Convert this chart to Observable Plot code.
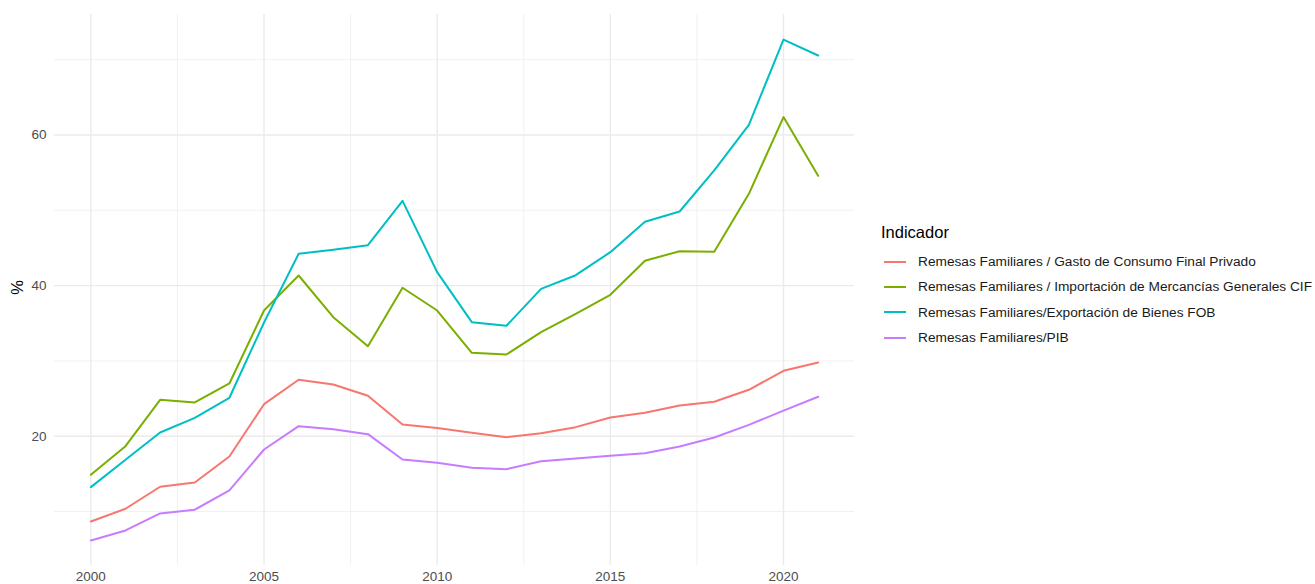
<!DOCTYPE html>
<html>
<head>
<meta charset="utf-8">
<script src="https://cdn.jsdelivr.net/npm/d3@7"></script>
<script src="https://cdn.jsdelivr.net/npm/@observablehq/plot@0.6"></script>
<style>
  body { margin: 0; background: #fff; font-family: "Liberation Sans", Arial, sans-serif; }
  #wrap { position: relative; width: 1315px; height: 584px; }
  #legend { position: absolute; left: 881px; top: 222px; color: #000; }
  #legend .title { font-size: 16.5px; height: 27px; line-height: 20px; }
  #legend .item { display: flex; align-items: center; height: 25.3px; font-size: 13.7px; color: #1a1a1a; white-space: nowrap; }
  #legend .key { width: 22px; height: 2px; margin: 0 12px 0 3px; flex: none; }
  #ylab { position: absolute; left: 10px; top: 278px; font-size: 16.5px; transform: rotate(-90deg); transform-origin: center; }
</style>
</head>
<body>
<div id="wrap"></div>
<script>
const years = [2000,2001,2002,2003,2004,2005,2006,2007,2008,2009,2010,2011,2012,2013,2014,2015,2016,2017,2018,2019,2020,2021];
const seriesNames = [
  "Remesas Familiares / Gasto de Consumo Final Privado",
  "Remesas Familiares / Importación de Mercancías Generales CIF",
  "Remesas Familiares/Exportación de Bienes FOB",
  "Remesas Familiares/PIB"
];
const gastoConsumo = [8.67,10.36,13.28,13.85,17.3,24.25,27.49,26.87,25.36,21.55,21.1,20.45,19.87,20.4,21.2,22.48,23.1,24.08,24.57,26.16,28.68,29.79];
const importacion = [14.87,18.67,24.83,24.48,27.0,36.69,41.34,35.8,31.95,39.71,36.69,31.07,30.85,33.81,36.25,38.78,43.29,44.57,44.49,52.19,62.38,54.58];
const exportacion = [13.23,16.87,20.49,22.44,25.1,35.1,44.22,44.75,45.37,51.26,41.78,35.14,34.66,39.57,41.38,44.44,48.47,49.84,55.3,61.35,72.68,70.56];
const pib = [6.15,7.48,9.74,10.23,12.79,18.23,21.33,20.93,20.27,16.9,16.47,15.8,15.62,16.68,17.04,17.4,17.74,18.63,19.83,21.5,23.4,25.23];
const colors = ["#F8766D","#7CAE00","#00BFC4","#C77CFF"];
const xMajor = [2000,2005,2010,2015,2020];
const xMinor = [2002.5,2007.5,2012.5,2017.5];
const yMajor = [20,40,60];
const yMinor = [10,30,50,70];

const allSeries = [gastoConsumo, importacion, exportacion, pib];
const data = [];
allSeries.forEach((vals, i) => vals.forEach((v, j) => data.push({year: years[j], value: v, ind: seriesNames[i]})));

const allVals = allSeries.flat();
const yMin = d3.min(allVals), yMax = d3.max(allVals);
const yPad = (yMax - yMin) * 0.05;
const xPad = (d3.max(years) - d3.min(years)) * 0.05;

const chart = Plot.plot({
  width: 1315,
  height: 584,
  marginLeft: 54,
  marginRight: 461,
  marginTop: 14,
  marginBottom: 19,
  style: {fontFamily: "Liberation Sans, Arial, sans-serif", background: "#fff"},
  x: {domain: [d3.min(years) - xPad, d3.max(years) + xPad], ticks: xMajor, tickFormat: d => String(d), tickSize: 0, label: null},
  y: {domain: [yMin - yPad, yMax + yPad], ticks: yMajor, tickSize: 0, label: null},
  color: {domain: seriesNames, range: colors},
  marks: [
    Plot.ruleX(xMinor, {stroke: "#ebebeb", strokeWidth: 0.7, strokeOpacity: 1}),
    Plot.ruleY(yMinor, {stroke: "#ebebeb", strokeWidth: 0.7, strokeOpacity: 1}),
    Plot.ruleX(xMajor, {stroke: "#ebebeb", strokeWidth: 1.4, strokeOpacity: 1}),
    Plot.ruleY(yMajor, {stroke: "#ebebeb", strokeWidth: 1.4, strokeOpacity: 1}),
    Plot.axisX({ticks: xMajor, tickFormat: d => String(d), tickSize: 0, tickPadding: 6, fontSize: 13.5, color: "#4d4d4d", label: null}),
    Plot.axisY({ticks: yMajor, tickSize: 0, tickPadding: 8, fontSize: 13.5, color: "#4d4d4d", label: null}),
    Plot.line(data, {x: "year", y: "value", z: "ind", stroke: "ind", strokeWidth: 2})
  ]
});

const wrap = document.getElementById("wrap");
wrap.appendChild(chart);

const ylab = document.createElement("div");
ylab.id = "ylab";
ylab.textContent = "%";
wrap.appendChild(ylab);

const legend = document.createElement("div");
legend.id = "legend";
const t = document.createElement("div");
t.className = "title";
t.textContent = "Indicador";
legend.appendChild(t);
seriesNames.forEach((n, i) => {
  const it = document.createElement("div");
  it.className = "item";
  const k = document.createElement("span");
  k.className = "key";
  k.style.background = colors[i];
  const l = document.createElement("span");
  l.textContent = n;
  it.appendChild(k); it.appendChild(l);
  legend.appendChild(it);
});
wrap.appendChild(legend);
</script>
</body>
</html>
